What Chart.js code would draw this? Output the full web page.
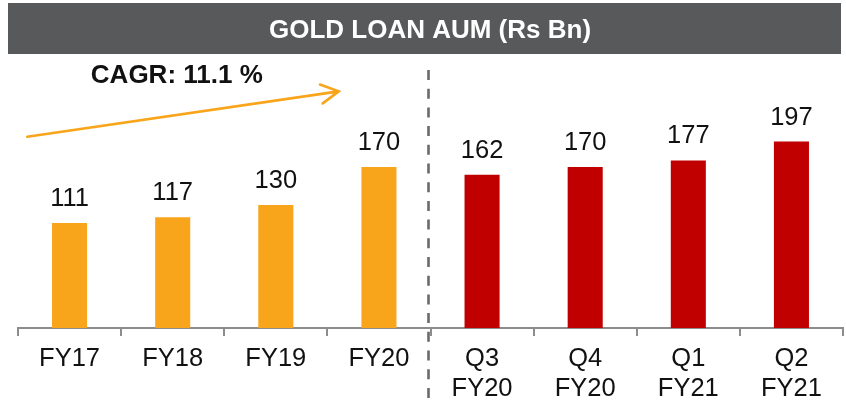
<!DOCTYPE html>
<html><head><meta charset="utf-8">
<script src="https://cdn.jsdelivr.net/npm/chart.js@4"></script>
<style>html,body{margin:0;padding:0;background:#fff;} canvas{display:block;}</style>
</head><body>
<canvas id="c" width="846" height="409"></canvas>
<script>
// ---- data ----
const annualLabels = ["FY17", "FY18", "FY19", "FY20"];
const quarterLabels = [["Q3", "FY20"], ["Q4", "FY20"], ["Q1", "FY21"], ["Q2", "FY21"]];
const annualValues = [111, 117, 130, 170];
const quarterValues = [162, 170, 177, 197];
const titleText = "GOLD LOAN AUM (Rs Bn)";
const cagrText = "CAGR: 11.1 %";

// ---- styles ----
const annualColor = "#F8A51B";
const quarterColor = "#C00000";
const FONT = "'Liberation Sans', Arial, sans-serif";

const labels = annualLabels.concat(quarterLabels);
const values = annualValues.concat(quarterValues);
const colors = annualValues.map(() => annualColor).concat(quarterValues.map(() => quarterColor));

const decorPlugin = {
  id: 'decor',
  beforeDraw(chart) {
    const ctx = chart.ctx;
    ctx.save();
    ctx.fillStyle = '#ffffff';
    ctx.fillRect(0, 0, chart.width, chart.height);
    ctx.fillStyle = '#58595B';
    ctx.fillRect(8, 3, 833, 51);
    ctx.fillStyle = '#ffffff';
    ctx.font = "bold 26px " + FONT;
    ctx.textAlign = 'center';
    ctx.textBaseline = 'alphabetic';
    ctx.fillText(titleText, 430, 38);
    ctx.restore();
  },
  afterDatasetsDraw(chart) {
    const ctx = chart.ctx;
    const xs = chart.scales.x, ys = chart.scales.y;
    const meta = chart.getDatasetMeta(0);
    ctx.save();
    // value labels
    ctx.fillStyle = '#111111';
    ctx.font = "25.5px " + FONT;
    ctx.textAlign = 'center';
    ctx.textBaseline = 'alphabetic';
    meta.data.forEach((bar, i) => {
      ctx.fillText(String(values[i]), bar.x, bar.y - 17);
    });
    // dashed separator
    const sepX = xs.getPixelForValue(annualValues.length - 0.5) - 2;
    ctx.strokeStyle = '#6A6A6A';
    ctx.lineWidth = 2.6;
    ctx.setLineDash([10, 8.7]);
    ctx.beginPath();
    ctx.moveTo(sepX, 70);
    ctx.lineTo(sepX, 402);
    ctx.stroke();
    ctx.setLineDash([]);
    // CAGR arrow
    const x0 = xs.getPixelForValue(-0.41), y0 = ys.getPixelForValue(202);
    const x1 = xs.getPixelForValue(2.61), y1 = ys.getPixelForValue(250);
    ctx.strokeStyle = annualColor;
    ctx.lineWidth = 2.6;
    ctx.lineCap = 'round';
    ctx.beginPath();
    ctx.moveTo(x0, y0);
    ctx.lineTo(x1, y1);
    const ang = Math.atan2(y0 - y1, x0 - x1);
    const L = 20, a = 28.5 * Math.PI / 180;
    ctx.moveTo(x1 + L * Math.cos(ang + a), y1 + L * Math.sin(ang + a));
    ctx.lineTo(x1, y1);
    ctx.lineTo(x1 + L * Math.cos(ang - a), y1 + L * Math.sin(ang - a));
    ctx.stroke();
    // CAGR text
    ctx.fillStyle = '#111111';
    ctx.font = "bold 26px " + FONT;
    ctx.textAlign = 'center';
    ctx.fillText(cagrText, xs.getPixelForValue(1.04), ys.getPixelForValue(259));
    ctx.restore();
  }
};

new Chart(document.getElementById('c'), {
  type: 'bar',
  data: {
    labels: labels,
    datasets: [{
      data: values,
      backgroundColor: colors,
      borderWidth: 0,
      barPercentage: 0.34,
      categoryPercentage: 1.0
    }]
  },
  options: {
    responsive: false,
    animation: false,
    devicePixelRatio: 1,
    layout: { padding: { top: 63, left: 18, right: 3, bottom: 0 } },
    plugins: { legend: { display: false }, tooltip: { enabled: false }, title: { display: false } },
    scales: {
      x: {
        grid: { display: true, drawOnChartArea: false, drawTicks: true, tickLength: 8, color: '#8C8C8C', lineWidth: 2, offset: true },
        border: { display: true, color: '#8C8C8C', width: 2 },
        ticks: { color: '#111111', font: { family: FONT, size: 25.5, lineHeight: 1.18 }, padding: 8, maxRotation: 0, autoSkip: false },
        afterFit(scale) { scale.height = 81; }
      },
      y: { display: false, min: 0, max: 280 }
    }
  },
  plugins: [decorPlugin]
});
</script>
</body></html>
